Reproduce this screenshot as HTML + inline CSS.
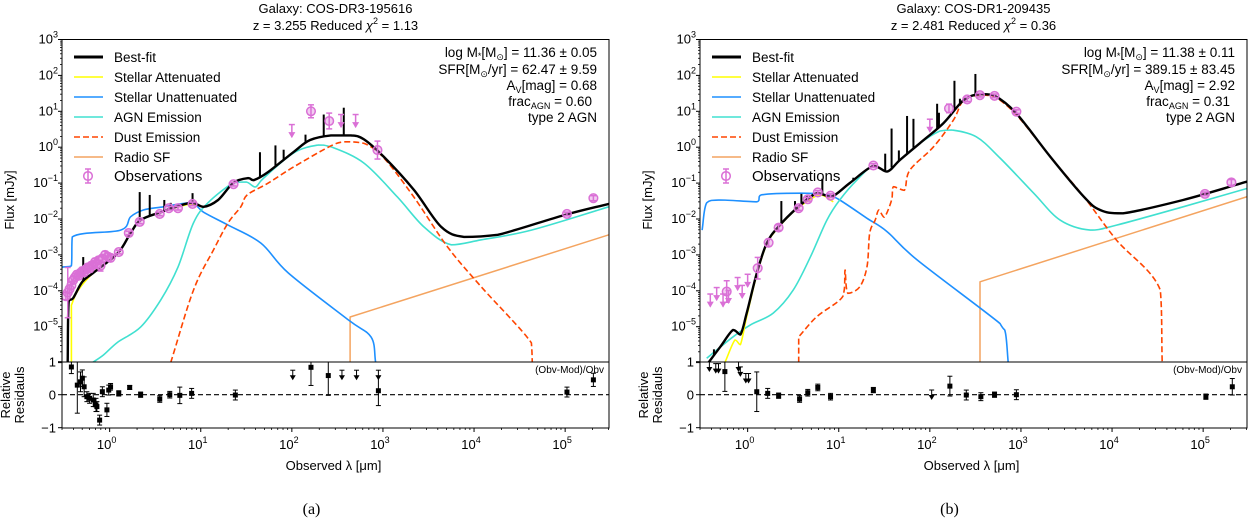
<!DOCTYPE html>
<html><head><meta charset="utf-8">
<style>
html,body{margin:0;padding:0;background:#fff;}
svg{display:block;font-family:"Liberation Sans",Arial,sans-serif;}
</style></head>
<body>
<svg id="fig" width="1250" height="520" viewBox="0 0 1250 520" xmlns="http://www.w3.org/2000/svg">
<defs>
<clipPath id="clipA"><rect x="62" y="39.5" width="547" height="322.5"/></clipPath>
<clipPath id="clipB"><rect x="700" y="39.5" width="547" height="322.5"/></clipPath>
</defs>
</svg>
<script>
// ---------- Panel A data (log10 lambda [um], log10 flux [mJy]) ----------
const A_best = [[-0.46,-6],[-0.45,-4.3],[-0.4,-4.2],[-0.3,-3.75],[-0.18,-3.5],[0.09,-2.95],[0.23,-2.39],[0.34,-2.03],[0.56,-1.81],[0.89,-1.55],[1.03,-1.66],[1.19,-1.47],[1.36,-0.99],[1.52,-0.86],[1.58,-0.92],[1.74,-0.69],[2.02,-0.13],[2.2,0.2],[2.43,0.33],[2.65,0.33],[2.79,0.22],[3.01,-0.27],[3.34,-1.19],[3.64,-2.22],[3.89,-2.5],[4.26,-2.44],[4.99,-1.89],[5.48,-1.58]];
const A_yellow = [[-0.42,-6],[-0.42,-4.4],[-0.35,-4.0],[-0.18,-3.5],[0.09,-2.95],[0.23,-2.39],[0.34,-2.03],[0.56,-1.81],[0.89,-1.58],[1.0,-1.65]];
const A_blue = [[-0.52,-3.34],[-0.42,-3.3],[-0.41,-2.5],[0.12,-2.31],[0.23,-1.94],[0.37,-1.75],[0.56,-1.67],[0.89,-1.55],[1.03,-1.81],[1.30,-2.17],[1.66,-2.67],[1.96,-3.50],[2.62,-4.81],[2.87,-5.29],[2.92,-6.0]];
const A_agn = [[-0.19,-6],[-0.07,-5.79],[0.09,-5.43],[0.34,-5.01],[0.56,-4.26],[0.75,-3.34],[0.92,-2.11],[1.08,-1.55],[1.36,-0.99],[1.5,-0.97],[1.6,-1.11],[1.69,-0.86],[2.02,-0.16],[2.29,0.06],[2.43,0.01],[2.79,-0.44],[3.16,-1.39],[3.45,-2.22],[3.75,-2.72],[4.08,-2.58],[4.63,-2.31],[5.48,-1.66]];
const A_dust = [[0.67,-6],[0.92,-3.98],[1.14,-2.86],[1.30,-2.11],[1.44,-1.66],[1.51,-1.33],[1.74,-1.0],[2.02,-0.55],[2.40,0.0],[2.57,0.15],[2.79,0.11],[3.01,-0.3],[3.34,-1.39],[3.71,-2.78],[4.08,-3.89],[4.63,-5.45],[4.64,-6]];
const A_radio = [[2.64,-6],[2.64,-4.73],[5.48,-2.44]];
const A_spikeLx = [-0.29,0.33,0.44,0.60,0.67,0.91,1.65,1.82,1.91,2.15,2.35,2.57];
const A_spikeTop = [-3.06,-1.25,-1.33,-1.47,-1.55,-1.28,-0.14,0.05,-0.07,0.35,0.91,1.10];
const A_obsLx = [-0.48,-0.46,-0.44,-0.42,-0.40,-0.38,-0.36,-0.34,-0.32,-0.30,-0.28,-0.26,-0.24,-0.22,-0.20,-0.18,-0.16,-0.14,-0.12,-0.10,-0.08,-0.05,-0.02,0.01,0.10,0.21,0.33,0.55,0.65,0.75,0.91,1.36,2.21,2.41,2.94,5.02,5.31];
const A_obsLf = [-4.15,-4.05,-3.95,-3.85,-3.7,-3.62,-3.55,-3.58,-3.5,-3.45,-3.48,-3.4,-3.35,-3.38,-3.3,-3.28,-3.2,-3.25,-3.15,-3.3,-3.1,-3.0,-3.05,-3.08,-2.92,-2.39,-2.08,-1.86,-1.70,-1.70,-1.58,-1.03,1.0,0.73,-0.08,-1.86,-1.42];
const A_obsErr = [0.1,0.7,0.1,0.1,0.1,0.1,0.1,0.1,0.1,0.1,0.1,0.1,0.1,0.1,0.1,0.1,0.1,0.1,0.1,0.15,0.1,0.1,0.1,0.1,0.05,0.05,0.05,0.05,0.05,0.05,0.05,0.05,0.18,0.22,0.25,0.05,0.07];
const A_limLx = [2.0,2.54,2.70];
const A_limLf = [0.28,0.56,0.56];
const A_resLx = [-0.42,-0.355,-0.32,-0.30,-0.28,-0.25,-0.22,-0.18,-0.15,-0.14,-0.11,-0.08,-0.03,-0.01,0.01,0.10,0.22,0.34,0.55,0.66,0.77,0.90,1.38,2.21,2.40,2.95,5.02,5.31];
const A_res = [0.84,0.29,0.39,0.50,0.24,-0.06,-0.11,-0.16,-0.31,-0.36,-0.77,0.09,-0.46,0.14,0.24,0.04,0.22,0.0,-0.13,0.0,-0.02,0.04,-0.01,0.83,0.58,0.12,0.08,0.45];
const A_resErr = [0.2,0.85,0.3,0.25,0.3,0.15,0.15,0.2,0.2,0.15,0.15,0.15,0.2,0.15,0.1,0.08,0.06,0.08,0.1,0.1,0.25,0.15,0.15,0.55,0.6,0.45,0.15,0.2];
const A_resLimLx = [2.01,2.55,2.71,2.95];
const A_resLim = [0.5,0.5,0.5,0.5];

// ---------- Panel B data ----------
const B_best = [[-0.43,-6.0],[-0.30,-5.56],[-0.16,-5.09],[-0.08,-5.22],[-0.01,-4.62],[0.10,-3.51],[0.21,-2.67],[0.34,-2.21],[0.54,-1.70],[0.76,-1.28],[0.92,-1.38],[1.12,-1.0],[1.38,-0.52],[1.53,-0.68],[1.67,-0.36],[1.89,0.11],[2.15,0.67],[2.37,1.31],[2.55,1.48],[2.70,1.45],[2.95,0.94],[3.32,-0.26],[3.69,-1.38],[3.87,-1.75],[4.12,-1.84],[4.78,-1.47],[5.48,-0.96]];
const B_yellow = [[-0.25,-6.0],[-0.14,-5.37],[-0.08,-5.5],[-0.01,-4.72],[0.10,-3.55],[0.21,-2.7],[0.34,-2.23],[0.54,-1.72],[0.79,-1.33],[0.94,-1.52]];
const B_blue = [[-0.50,-2.31],[-0.45,-1.55],[-0.30,-1.47],[0.10,-1.52],[0.15,-1.33],[0.58,-1.28],[0.87,-1.33],[1.01,-1.47],[1.31,-1.98],[1.53,-2.35],[1.86,-3.14],[2.77,-4.91],[2.83,-5.18],[2.86,-6]];
const B_agn = [[-0.45,-5.88],[-0.16,-5.28],[0.03,-4.95],[0.28,-4.62],[0.50,-3.98],[0.69,-3.05],[0.87,-2.03],[1.01,-1.47],[1.20,-0.91],[1.38,-0.52],[1.53,-0.68],[1.67,-0.36],[1.89,0.11],[2.11,0.45],[2.24,0.48],[2.51,0.29],[2.77,-0.3],[3.14,-1.28],[3.43,-2.03],[3.76,-2.31],[4.05,-2.17],[4.78,-1.66],[5.48,-1.15]];
const B_dust = [[0.56,-6.0],[0.56,-5.28],[0.76,-4.72],[1.01,-4.26],[1.06,-3.98],[1.07,-3.42],[1.10,-4.07],[1.23,-3.89],[1.31,-3.33],[1.34,-2.39],[1.40,-2.03],[1.44,-1.75],[1.50,-1.95],[1.58,-1.47],[1.60,-1.10],[1.72,-1.2],[1.78,-0.64],[2.04,0.01],[2.26,0.76],[2.37,1.31],[2.55,1.45],[2.70,1.42],[2.95,0.9],[3.32,-0.26],[3.69,-1.38],[4.05,-2.59],[4.53,-3.98],[4.55,-6]];
const B_radio = [[2.55,-6],[2.55,-3.75],[5.48,-1.38]];
const B_spikeLx = [-0.37,0.24,0.37,0.52,0.59,0.65,0.82,0.98,1.16,1.51,1.58,1.66,1.75,1.82,2.08,2.10,2.27,2.33,2.50];
const B_spikeTop = [-5.63,-2.53,-1.50,-1.50,-1.30,-1.35,-0.88,-1.27,-0.85,-0.18,0.52,-0.09,0.87,0.79,1.21,0.96,1.85,1.35,2.04];
const B_obsLx = [-0.23,0.11,0.23,0.34,0.56,0.66,0.77,0.91,1.38,2.21,2.41,2.55,2.71,2.95,5.02,5.31];
const B_obsLf = [-4.02,-3.37,-2.66,-2.24,-1.70,-1.45,-1.26,-1.35,-0.51,1.08,1.33,1.45,1.43,0.99,-1.30,-0.98];
const B_obsErr = [0.3,0.3,0.1,0.08,0.06,0.05,0.05,0.05,0.05,0.12,0.06,0.05,0.05,0.05,0.05,0.08];
const B_limLx = [-0.41,-0.34,-0.27,-0.21,-0.11,-0.06,0.00,2.00];
const B_limLf = [-4.44,-4.26,-4.44,-4.34,-3.98,-4.2,-3.89,0.43];
const B_resLx = [0.10,0.22,0.34,0.57,0.66,0.77,0.91,1.38,2.22,2.40,2.56,2.71,2.95,5.03,5.32,-0.25];
const B_res = [0.09,0.04,-0.03,-0.13,0.06,0.22,-0.06,0.14,0.26,-0.01,-0.06,0.0,0.0,-0.06,0.24,0.7];
const B_resErr = [0.6,0.15,0.08,0.1,0.1,0.1,0.1,0.08,0.3,0.15,0.12,0.08,0.15,0.08,0.25,0.6];
const B_resLimLx = [-0.42,-0.35,-0.32,-0.10,-0.08,-0.02,0.01,2.02];
const B_resLim = [0.75,0.7,0.7,0.75,0.6,0.4,0.4,-0.1];

const svg = document.getElementById('fig');
const NS = 'http://www.w3.org/2000/svg';
function mk(tag, attrs, name, parent){
  const el = document.createElementNS(NS, tag);
  for (const k in attrs) el.setAttribute(k, attrs[k]);
  
  
  (parent || svg).appendChild(el);
  return el;
}
function py(ly){ return 39.5 + (3 - ly) * 35.9; }
function ry(r){ return 394.7 - r * 33; }
function interp(arr, lx){
  for (let i=0;i<arr.length-1;i++){
    if (lx>=arr[i][0] && lx<=arr[i+1][0]){
      const t=(lx-arr[i][0])/((arr[i+1][0]-arr[i][0])||1);
      return arr[i][1]+t*(arr[i+1][1]-arr[i][1]);
    }
  }
  return arr[arr.length-1][1];
}
function clamp(v,a,b){ const lo=Math.min(a,b), hi=Math.max(a,b); return Math.max(lo,Math.min(hi,v)); }
function smoothPath(pts){
  let d='M'+pts[0][0].toFixed(1)+','+pts[0][1].toFixed(1);
  for (let i=0;i<pts.length-1;i++){
    const p0=pts[Math.max(0,i-1)], p1=pts[i], p2=pts[i+1], p3=pts[Math.min(pts.length-1,i+2)];
    if (Math.abs(p2[0]-p1[0])<0.5){ d+='L'+p2[0].toFixed(1)+','+p2[1].toFixed(1); continue; }
    let c1x=p1[0]+(p2[0]-p0[0])/6, c1y=p1[1]+(p2[1]-p0[1])/6;
    let c2x=p2[0]-(p3[0]-p1[0])/6, c2y=p2[1]-(p3[1]-p1[1])/6;
    if (Math.abs(p1[0]-p0[0])<0.5){ c1x=p1[0]+(p2[0]-p1[0])/3; c1y=p1[1]+(p2[1]-p1[1])/3; }
    if (Math.abs(p3[0]-p2[0])<0.5){ c2x=p2[0]-(p2[0]-p1[0])/3; c2y=p2[1]-(p2[1]-p1[1])/3; }
    c1x=clamp(c1x,p1[0],p2[0]); c2x=clamp(c2x,p1[0],p2[0]);
    c1y=clamp(c1y,p1[1],p2[1]); c2y=clamp(c2y,p1[1],p2[1]);
    d+='C'+c1x.toFixed(1)+','+c1y.toFixed(1)+' '+c2x.toFixed(1)+','+c2y.toFixed(1)+' '+p2[0].toFixed(1)+','+p2[1].toFixed(1);
  }
  return d;
}

function drawPanel(P){
  const x0 = P.x0;
  const px = lx => x0 + (lx + 0.523) * 91.1;
  const W = 547, xr = x0 + W;
  const g = mk('g', {}, P.id + '-panel');
  const gc = mk('g', {'clip-path':'url(#' + P.clip + ')'}, P.id + '-series', g);
  function curve(arr, color, w, name, dash, smooth){
    const pts = arr.map(p=>[px(p[0]), py(p[1])]);
    const d = smooth ? smoothPath(pts) : pts.map((p,i)=>(i?'L':'M')+p[0].toFixed(1)+','+p[1].toFixed(1)).join('');
    const a = {d:d, fill:'none', stroke:color, 'stroke-width':w, 'stroke-linejoin':'round'};
    if (dash) a['stroke-dasharray'] = dash;
    mk('path', a, name, gc);
  }
  curve(P.radio, '#F4A460', 1.5, 'radio-sf-line', null, false);
  curve(P.blue, '#1E90FF', 1.6, 'stellar-unattenuated-line', null, true);
  curve(P.agn, '#40E0D0', 1.6, 'agn-emission-line', null, true);
  curve(P.dust, '#FF4500', 1.6, 'dust-emission-line', '6,3', true);
  curve(P.yellow, '#FFFF00', 1.6, 'stellar-attenuated-line', null, true);
  curve(P.best, '#000', 2.4, 'best-fit-line', null, true);
  for (let i=0;i<P.spLx.length;i++){
    const lx=P.spLx[i];
    mk('line',{x1:px(lx),x2:px(lx),y1:py(interp(P.best,lx)),y2:py(P.spTop[i]),stroke:'#000','stroke-width':2}, 'emission-line-spike', gc);
  }
  const mag = '#DA70D6';
  for (let i=0;i<P.oLx.length;i++){
    const x=px(P.oLx[i]), y=py(P.oLf[i]), e=P.oErr[i];
    const y1=py(P.oLf[i]+e), y2=py(P.oLf[i]-e);
    mk('line',{x1:x,x2:x,y1:y1,y2:y2,stroke:mag,'stroke-width':1.5}, 'observation-errorbar', gc);
    mk('line',{x1:x-3,x2:x+3,y1:y1,y2:y1,stroke:mag,'stroke-width':1.5}, 'errorbar-cap', gc);
    mk('line',{x1:x-3,x2:x+3,y1:y2,y2:y2,stroke:mag,'stroke-width':1.5}, 'errorbar-cap', gc);
    mk('circle',{cx:x,cy:y,r:4.3,fill:'rgba(218,112,214,0.35)',stroke:mag,'stroke-width':1.5}, 'observation-point', gc);
  }
  for (let i=0;i<P.lLx.length;i++){
    const x=px(P.lLx[i]), y=py(P.lLf[i]), yt=py(P.lLf[i]+0.35);
    mk('line',{x1:x,x2:x,y1:yt,y2:y,stroke:mag,'stroke-width':1.5}, 'upper-limit-line', gc);
    mk('line',{x1:x-3,x2:x+3,y1:yt,y2:yt,stroke:mag,'stroke-width':1.5}, 'upper-limit-cap', gc);
    mk('path',{d:`M${x-3.5},${y-5}L${x+3.5},${y-5}L${x},${y+1}Z`,fill:mag}, 'upper-limit-arrow', gc);
  }
  mk('rect',{x:x0,y:39.5,width:W,height:322.5,fill:'none',stroke:'#000','stroke-width':1}, P.id+'-main-axes-frame', g);
  mk('rect',{x:x0,y:362,width:W,height:66,fill:'none',stroke:'#000','stroke-width':1}, P.id+'-residual-axes-frame', g);
  for (let d=-6; d<=3; d++){
    const y=py(d);
    mk('line',{x1:x0-4,x2:x0,y1:y,y2:y,stroke:'#000','stroke-width':1}, 'y-major-tick', g);
    if (d>-6){
      const t = mk('text',{x:x0-4,y:y+4,'text-anchor':'end','font-size':13}, 'y-tick-label', g);
      t.appendChild(document.createTextNode('10'));
      const s = mk('tspan',{dy:-6,'font-size':9}, 'y-tick-exponent', t);
      s.textContent = d<0 ? '\u2212'+(-d) : String(d);
    }
    if (d<3) for (let k=2;k<=9;k++){
      const yy=py(d+Math.log10(k));
      mk('line',{x1:x0-2,x2:x0,y1:yy,y2:yy,stroke:'#000','stroke-width':0.8}, 'y-minor-tick', g);
    }
  }
  [[1,'1'],[0,'0'],[-1,'\u22121']].forEach(v=>{
    const y=ry(v[0]);
    mk('line',{x1:x0-4,x2:x0,y1:y,y2:y,stroke:'#000','stroke-width':1}, 'residual-y-tick', g);
    const t=mk('text',{x:x0-6,y:y+5,'text-anchor':'end','font-size':13}, 'residual-y-tick-label', g);
    t.textContent=v[1];
  });
  for (let d=-1; d<=5; d++){
    if (d>=0){
      const x=px(d);
      mk('line',{x1:x,x2:x,y1:428,y2:432,stroke:'#000','stroke-width':1}, 'x-major-tick', g);
      const t=mk('text',{x:x-3,y:449,'text-anchor':'middle','font-size':13}, 'x-tick-label', g);
      t.appendChild(document.createTextNode('10'));
      const s=mk('tspan',{dy:-6,'font-size':9}, 'x-tick-exponent', t);
      s.textContent=String(d);
    }
    for (let k=2;k<=9;k++){
      const lx=d+Math.log10(k);
      if (lx<-0.523||lx>5.48) continue;
      mk('line',{x1:px(lx),x2:px(lx),y1:428,y2:430,stroke:'#000','stroke-width':0.8}, 'x-minor-tick', g);
    }
  }
  mk('line',{x1:x0,x2:xr,y1:ry(0),y2:ry(0),stroke:'#000','stroke-width':1.2,'stroke-dasharray':'5,3'}, 'zero-residual-line', g);
  for (let i=0;i<P.rLx.length;i++){
    const x=px(P.rLx[i]), y=ry(P.res[i]), e=P.rErr[i];
    const y1=Math.max(362,ry(P.res[i]+e)), y2=Math.min(428,ry(P.res[i]-e));
    mk('line',{x1:x,x2:x,y1:y1,y2:y2,stroke:'#000','stroke-width':1}, 'residual-errorbar', g);
    mk('line',{x1:x-2.5,x2:x+2.5,y1:y1,y2:y1,stroke:'#000','stroke-width':1}, 'residual-cap', g);
    mk('line',{x1:x-2.5,x2:x+2.5,y1:y2,y2:y2,stroke:'#000','stroke-width':1}, 'residual-cap', g);
    mk('rect',{x:x-2.5,y:y-2.5,width:5,height:5,fill:'#000'}, 'residual-point', g);
  }
  for (let i=0;i<P.rlLx.length;i++){
    const x=px(P.rlLx[i]), y=ry(P.rl[i]);
    mk('line',{x1:x,x2:x,y1:y-8,y2:y,stroke:'#000','stroke-width':1}, 'residual-limit-line', g);
    mk('line',{x1:x-2.5,x2:x+2.5,y1:y-8,y2:y-8,stroke:'#000','stroke-width':1}, 'residual-limit-cap', g);
    mk('path',{d:`M${x-3},${y-3}L${x+3},${y-3}L${x},${y+2}Z`,fill:'#000'}, 'residual-limit-arrow', g);
  }
  const ob=mk('text',{x:xr-5,y:373,'text-anchor':'end','font-size':10}, 'residual-formula-label', g);
  ob.textContent='(Obv-Mod)/Obv';
  const lg = mk('g',{}, P.id+'-legend', g);
  const items=[['Best-fit','#000',3,null],['Stellar Attenuated','#FFFF00',1.6,null],['Stellar Unattenuated','#1E90FF',1.6,null],['AGN Emission','#40E0D0',1.6,null],['Dust Emission','#FF4500',1.6,'6,3'],['Radio SF','#F4A460',1.6,null]];
  items.forEach((it,i)=>{
    const y=57+i*20;
    const a={x1:x0+12,x2:x0+41,y1:y,y2:y,stroke:it[1],'stroke-width':it[2]};
    if(it[3]) a['stroke-dasharray']=it[3];
    mk('line',a,'legend-swatch',lg);
    const t=mk('text',{x:x0+52,y:y+5,'font-size':13.5},'legend-entry',lg);
    t.textContent=it[0];
  });
  const oy=176, ox=x0+26;
  mk('line',{x1:ox,x2:ox,y1:oy-7,y2:oy+7,stroke:mag,'stroke-width':1.5},'legend-obs-errorbar',lg);
  mk('line',{x1:ox-3,x2:ox+3,y1:oy-7,y2:oy-7,stroke:mag,'stroke-width':1.5},'legend-obs-cap',lg);
  mk('line',{x1:ox-3,x2:ox+3,y1:oy+7,y2:oy+7,stroke:mag,'stroke-width':1.5},'legend-obs-cap',lg);
  mk('circle',{cx:ox,cy:oy,r:4.3,fill:'none',stroke:mag,'stroke-width':1.5},'legend-obs-marker',lg);
  const to=mk('text',{x:x0+52,y:oy+5,'font-size':15},'legend-entry',lg);
  to.textContent='Observations';
  const cx=x0+W/2;
  const t1=mk('text',{x:cx,y:13,'text-anchor':'middle','font-size':13},P.id+'-title',g);
  t1.textContent='Galaxy: '+P.name;
  const t2=mk('text',{x:cx,y:30,'text-anchor':'middle','font-size':13},P.id+'-subtitle',g);
  t2.innerHTML='z = '+P.z+' Reduced <tspan font-style="italic">χ</tspan><tspan dy="-6" font-size="9">2</tspan><tspan dy="6"> = '+P.chi+'</tspan>';
  const ax=xr-12;
  const an=[
    'log M<tspan font-size="9" dy="2">*</tspan><tspan dy="-2">[M</tspan><tspan font-size="9" dy="3">⊙</tspan><tspan dy="-3">] = '+P.mass+'</tspan>',
    'SFR[M<tspan font-size="9" dy="3">⊙</tspan><tspan dy="-3">/yr] = '+P.sfr+'</tspan>',
    'A<tspan font-size="9" dy="3">V</tspan><tspan dy="-3">[mag] = '+P.av+'</tspan>',
    'frac<tspan font-size="9" dy="3">AGN</tspan><tspan dy="-3"> = '+P.frac+'</tspan>',
    'type 2 AGN'];
  const ay=[57,74,90,106,122];
  an.forEach((h,i)=>{
    const t=mk('text',{x:ax-(i==3?5:0),y:ay[i],'text-anchor':'end','font-size':13.5},'fit-parameter-text',g);
    t.innerHTML=h;
  });
  const yl=mk('text',{x:0,y:0,'text-anchor':'middle','font-size':13,transform:`translate(${x0-48},200) rotate(-90)`},'y-axis-title',g);
  yl.textContent='Flux [mJy]';
  const r1=mk('text',{x:0,y:0,'text-anchor':'middle','font-size':13,transform:`translate(${x0-52},395) rotate(-90)`},'residual-axis-title',g);
  r1.textContent='Relative';
  const r2=mk('text',{x:0,y:0,'text-anchor':'middle','font-size':13,transform:`translate(${x0-38},395) rotate(-90)`},'residual-axis-title',g);
  r2.textContent='Residauls';
  const xl=mk('text',{x:cx-2,y:470,'text-anchor':'middle','font-size':13},'x-axis-title',g);
  xl.textContent='Observed λ [μm]';
  const cap=mk('text',{x:cx-24,y:514,'text-anchor':'middle','font-size':16,'font-family':'"Liberation Serif",serif'},P.id+'-caption',g);
  cap.textContent=P.cap;
}

drawPanel({id:'panel-a',x0:62,clip:'clipA',best:A_best,yellow:A_yellow,blue:A_blue,agn:A_agn,dust:A_dust,radio:A_radio,
  spLx:A_spikeLx,spTop:A_spikeTop,oLx:A_obsLx,oLf:A_obsLf,oErr:A_obsErr,lLx:A_limLx,lLf:A_limLf,
  rLx:A_resLx,res:A_res,rErr:A_resErr,rlLx:A_resLimLx,rl:A_resLim,
  name:'COS-DR3-195616',z:'3.255',chi:'1.13',mass:'11.36 ± 0.05',sfr:'62.47 ± 9.59',av:'0.68',frac:'0.60',cap:'(a)'});
drawPanel({id:'panel-b',x0:700,clip:'clipB',best:B_best,yellow:B_yellow,blue:B_blue,agn:B_agn,dust:B_dust,radio:B_radio,
  spLx:B_spikeLx,spTop:B_spikeTop,oLx:B_obsLx,oLf:B_obsLf,oErr:B_obsErr,lLx:B_limLx,lLf:B_limLf,
  rLx:B_resLx,res:B_res,rErr:B_resErr,rlLx:B_resLimLx,rl:B_resLim,
  name:'COS-DR1-209435',z:'2.481',chi:'0.36',mass:'11.38 ± 0.11',sfr:'389.15 ± 83.45',av:'2.92',frac:'0.31',cap:'(b)'});
</script>
</body></html>
